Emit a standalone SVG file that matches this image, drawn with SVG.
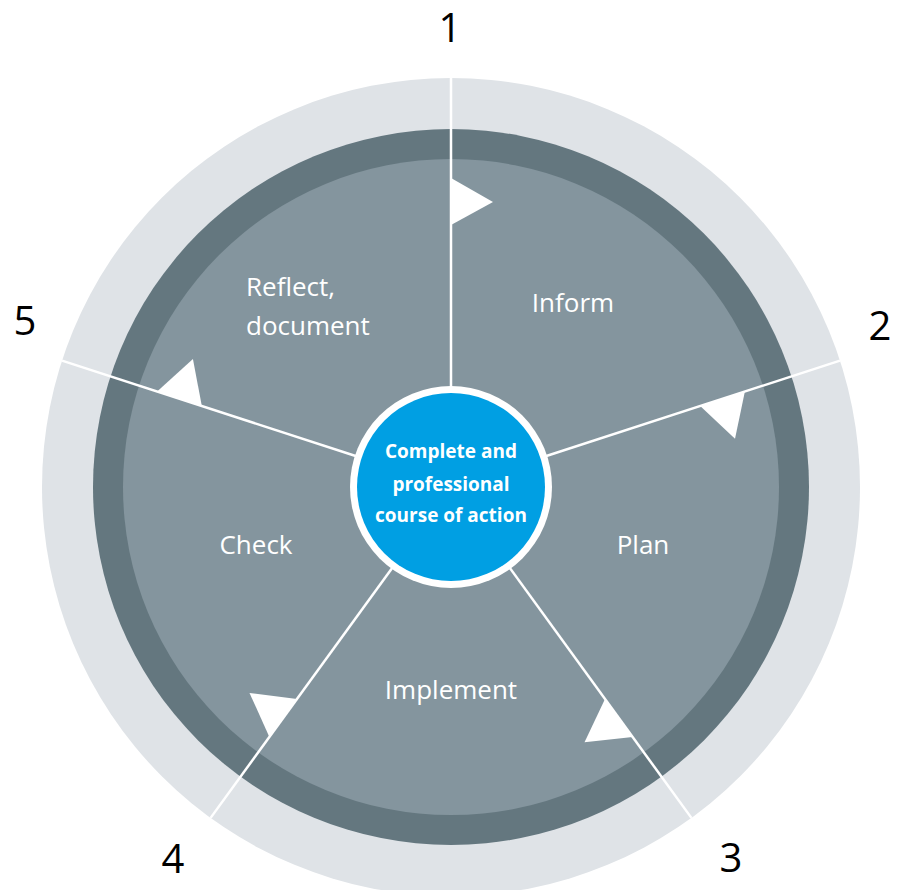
<svg xmlns="http://www.w3.org/2000/svg" width="899" height="890" viewBox="0 0 899 890">
<style>
.lbl{font-family:"Open Sans","Noto Sans",sans-serif;font-size:26px;fill:#ffffff;text-anchor:middle}
.num{font-family:"Open Sans","Noto Sans",sans-serif;font-size:40px;fill:#000000;text-anchor:middle}
.ctr{font-family:"Open Sans","Noto Sans",sans-serif;font-size:19px;font-weight:bold;fill:#ffffff;text-anchor:middle}
.sep{stroke:#ffffff;stroke-width:2.5}
.arr{fill:#ffffff}
</style>
<defs>
<g id="spoke">
<line class="sep" x1="451" y1="390" x2="451" y2="78"/>
<polygon class="arr" points="451,178 451,225 493,202"/>
</g>
</defs>
<rect width="899" height="890" fill="#ffffff"/>
<g id="rings">
<circle cx="451" cy="487" r="409" fill="#dfe3e7"/>
<circle cx="451" cy="487" r="358" fill="#64777f"/>
<circle cx="451" cy="487" r="328" fill="#84959e"/>
</g>
<g id="connectors">
<use href="#spoke"/>
<use href="#spoke" transform="rotate(72 451 487)"/>
<use href="#spoke" transform="rotate(144 451 487)"/>
<use href="#spoke" transform="rotate(216 451 487)"/>
<use href="#spoke" transform="rotate(288 451 487)"/>
</g>
<g id="center">
<circle cx="451" cy="487" r="101" fill="#ffffff"/>
<circle cx="451" cy="487" r="94" fill="#009fe3"/>
<text class="ctr" x="451" y="458">Complete and</text>
<text class="ctr" x="451" y="491">professional</text>
<text class="ctr" x="451" y="522">course of action</text>
</g>
<g id="inform"><text class="lbl" x="573" y="312">Inform</text></g>
<g id="plan"><text class="lbl" x="643" y="554">Plan</text></g>
<g id="implement"><text class="lbl" x="451" y="699">Implement</text></g>
<g id="check"><text class="lbl" x="256" y="554">Check</text></g>
<g id="reflect"><text class="lbl" x="246" y="296" style="text-anchor:start">Reflect,</text><text class="lbl" x="246" y="335" style="text-anchor:start">document</text></g>
<g id="numbers">
<text class="num" x="450" y="42">1</text>
<text class="num" x="880" y="340">2</text>
<text class="num" x="731" y="872">3</text>
<text class="num" x="173" y="873">4</text>
<text class="num" x="25" y="335">5</text>
</g>
</svg>
